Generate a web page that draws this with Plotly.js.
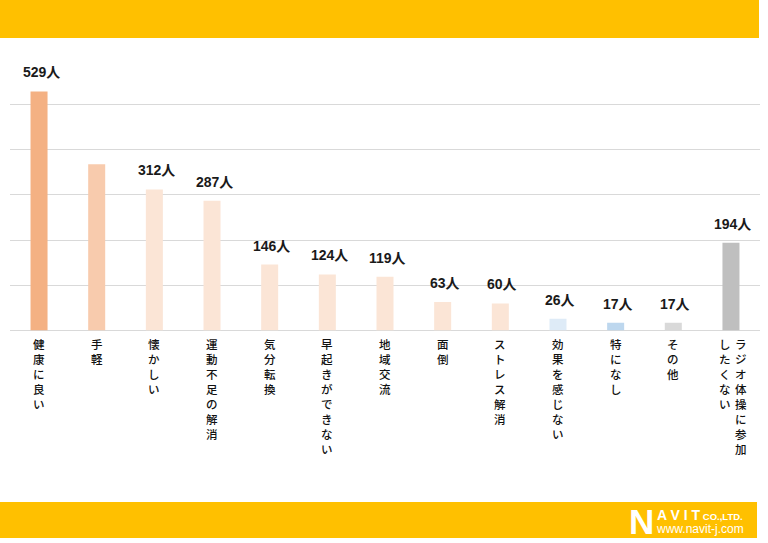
<!DOCTYPE html>
<html>
<head>
<meta charset="utf-8">
<script src="https://cdn.plot.ly/plotly-3.0.1.min.js"></script>
<style>
html,body{margin:0;padding:0;background:#fff;}
#chart{width:768px;height:543px;}
</style>
</head>
<body>
<div id="chart"></div>
<script>
// ---- data ----
const categories = ["健康に良い","手軽","懐かしい","運動不足の解消","気分転換","早起きができない","地域交流","面倒","ストレス解消","効果を感じない","特になし","その他","ラジオ体操に参加|したくない"];
const values = [529, 368, 312, 287, 146, 124, 119, 63, 60, 26, 17, 17, 194];
const valueLabels = ["529人", "", "312人", "287人", "146人", "124人", "119人", "63人", "60人", "26人", "17人", "17人", "194人"];
const barColors = ["#F4B183","#F8CBAD","#FBE5D6","#FBE5D6","#FBE5D6","#FBE5D6","#FBE5D6","#FBE5D6","#FBE5D6","#DEEBF7","#BDD7EE","#D9D9D9","#BFBFBF"];
const yTicks = [0, 100, 200, 300, 400, 500, 600];

const W = 768, H = 543;
const px = v => v / W;
const py = v => 1 - v / H;

const idx = categories.map((c, i) => i);

const trace = {
  type: "bar",
  x: idx,
  y: values,
  marker: {color: barColors, line: {width: 0}},
  hoverinfo: "none",
  showlegend: false
};

const annotations = [];
// value labels
values.forEach((v, i) => {
  if (!valueLabels[i]) return;
  annotations.push({
    x: idx[i], y: v, xref: "x", yref: "y",
    text: "<b>" + valueLabels[i] + "</b>",
    showarrow: false, yanchor: "bottom", xanchor: "center",
    yshift: 9, xshift: 2,
    font: {family: "Liberation Sans, 'Noto Sans CJK JP', sans-serif", size: 14, color: "#1a1a1a"}
  });
});
// vertical category labels
const catFont = {family: "'Noto Sans CJK JP', sans-serif", size: 11.5, color: "#111111", weight: 500};
categories.forEach((c, i) => {
  const cols = c.split("|");
  cols.forEach((col, j) => {
    // first column on the right (vertical Japanese writing)
    let xs = 0;
    if (cols.length === 2) xs = (j === 0) ? 10 : -6;
    annotations.push({
      x: idx[i], y: 0, xref: "x", yref: "y",
      text: col.split("").join("<br>"),
      showarrow: false, yanchor: "top", xanchor: "center", align: "center",
      yshift: -4, xshift: xs,
      font: catFont
    });
  });
});
// logo
const white = "#ffffff";
annotations.push({xref:"paper", yref:"paper", x: px(628), y: py(521), xanchor:"left", yanchor:"middle", showarrow:false,
  borderpad: 0,
  text:"<b>N</b>", font:{family:"Liberation Sans, sans-serif", size:35, color:white}});
annotations.push({xref:"paper", yref:"paper", x: px(655), y: py(521), xanchor:"left", yanchor:"middle", showarrow:false,
  borderpad: 0, align: "left",
  text:"<b><span style='font-size:14px'>A V I T</span> <span style='font-size:9.5px'>CO.,LTD.</span></b><br><span style='font-size:12px'>www.navit-j.com</span>",
  font:{family:"Liberation Sans, sans-serif", size:10, color:white}});

const shapes = [
  {type:"rect", xref:"paper", yref:"paper", x0:0, x1:px(759), y0:py(38), y1:1, fillcolor:"#FFC000", line:{width:0}, layer:"below"},
  {type:"rect", xref:"paper", yref:"paper", x0:0, x1:px(757), y0:py(538), y1:py(502), fillcolor:"#FFC000", line:{width:0}, layer:"below"}
];

const layout = {
  width: W, height: H,
  margin: {l:0, r:0, t:0, b:0},
  paper_bgcolor: "#ffffff",
  plot_bgcolor: "rgba(0,0,0,0)",
  bargap: 0.705,
  xaxis: {
    domain: [px(10.2), px(759.8)],
    range: [-0.5, categories.length - 0.5],
    showticklabels: false, showgrid: false, zeroline: false, showline: false, ticks: "",
    fixedrange: true
  },
  yaxis: {
    domain: [py(330.5), py(59.3)],
    range: [0, 600],
    tickvals: yTicks,
    showticklabels: false, ticks: "",
    showgrid: true, gridcolor: "#D9D9D9", gridwidth: 1,
    zeroline: true, zerolinecolor: "#D9D9D9", zerolinewidth: 1,
    showline: false, fixedrange: true
  },
  shapes: shapes,
  annotations: annotations,
  font: {family: "'Noto Sans CJK JP', sans-serif"}
};

Plotly.newPlot("chart", [trace], layout, {displayModeBar: false, staticPlot: true});
</script>
</body>
</html>
